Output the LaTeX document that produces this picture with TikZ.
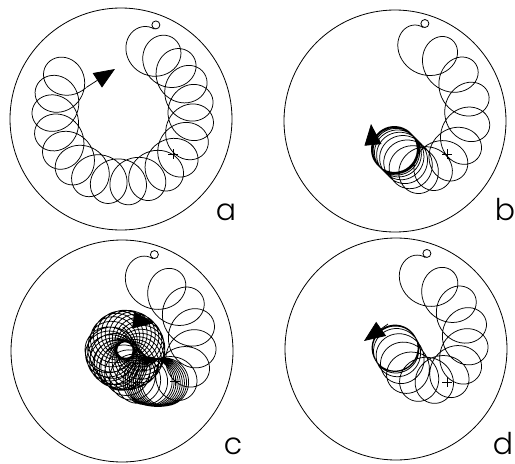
\documentclass[tikz,border=0pt]{standalone}
\usepackage{fontspec}
\setsansfont{Poppins Light}
\usetikzlibrary{arrows.meta}

\tikzset{
  declare function={
    ph(\x)=-60-360*(\x-floor(\x));
    % panel a: loops drift round the centre
    tha(\x)=-73+16.55*\x;
    ax(\x)=123+68*cos(tha(\x))+23*cos(ph(\x));
    ay(\x)=114+68*sin(tha(\x))+23*sin(ph(\x));
    % panel b: drift stops
    thb(\x)=min(-80+16*\x,45);
    rhob(\x)=103*exp(-min((\x/7.07)*(\x/7.07),9));
    bx(\x)=394+rhob(\x)*cos(thb(\x))+23*cos(ph(\x));
    by(\x)=149+rhob(\x)*sin(thb(\x))+23*sin(ph(\x));
    % panel d: drift stops near the middle
    thd(\x)=min(-75+22*\x-0.7*\x*\x,60);
    rhod(\x)=73*exp(-min((\x/8.5)*(\x/8.5)*(\x/8.5)*(\x/8.5),9));
    dx(\x)=395+rhod(\x)*cos(thd(\x))+23*cos(ph(\x));
    dy(\x)=348+rhod(\x)*sin(thd(\x))+23*sin(ph(\x));
    % panel c: slow down, then meander
    gc(\x)=ifthenelse(\x<6.3,\x,ifthenelse(\x<15.3,6.3+(\x-6.3)/7.5,7.5+0.5*(\x-15.3)));
    mc(\x)=min(1,max(0,(\x-15.3)/7));
    cx(\x)=122+rhod(gc(\x))*cos(thd(gc(\x)))+mc(\x)*(3+16*cos(90+15*(\x-15.3)))+24*cos(ph(\x));
    cy(\x)=350+rhod(gc(\x))*sin(thd(gc(\x)))+mc(\x)*(16*sin(90+15*(\x-15.3)))+24*sin(ph(\x));
  }
}

\begin{document}
\begin{tikzpicture}[x=1pt,y=-1pt,
    traj/.style={line width=0.75pt},
    rim/.style={line width=0.8pt},
    spot/.style={draw, circle, inner sep=0pt, minimum size=8pt, line width=0.8pt},
    head/.style={-{Triangle[length=21pt,width=17pt]}, line width=0.75pt},
    lab/.style={font=\sffamily\fontsize{30}{30}\selectfont, anchor=base, inner sep=0pt}]
  \useasboundingbox (0,0) rectangle (515,464);

  % a
  \draw[rim] (121,119) circle (111);
  \draw[traj] plot[domain=0:17.7, samples=709] ({ax(\x)},{ay(\x)});
  \coordinate (a0) at ({ax(0)},{ay(0)});
  \coordinate (a1) at ({ax(17.7)},{ay(17.7)});
  \coordinate (atip) at (115,69);
  \node[spot, anchor=250] (sa) at (a0) {};
  \draw[head] (a1) -- (atip);
  \draw[line width=0.8pt] (173,154) +(-5,0) -- +(5,0) +(0,-5) -- +(0,5);
  \node[lab] (la) at (226,220) {a};

  % b
  \draw[rim] (395,121) circle (111);
  \draw[traj] plot[domain=0:17, samples=681] ({bx(\x)},{by(\x)});
  \coordinate (b0) at ({bx(0)},{by(0)});
  \coordinate (bbase) at (373,145);
  \coordinate (btip) at (371,124);
  \node[spot, anchor=250] (sb) at (b0) {};
  \draw[head] (bbase) -- (btip);
  \draw[line width=0.8pt] (447,154) +(-5,0) -- +(5,0) +(0,-5) -- +(0,5);
  \node[lab] (lb) at (505,220) {b};

  % c
  \draw[rim] (122,351) circle (111);
  \draw[traj] plot[domain=0:46, samples=1841] ({cx(\x)},{cy(\x)});
  \coordinate (c0) at ({cx(0)},{cy(0)});
  \coordinate (cbase) at (133,320);
  \coordinate (ctip) at (154,323);
  \node[spot, anchor=250] (sc) at (c0) {};
  \draw[head] (cbase) -- (ctip);
  \draw[line width=0.8pt] (175,381) +(-5,0) -- +(5,0) +(0,-5) -- +(0,5);
  \node[lab] (lc) at (233,454) {c};

  % d
  \draw[rim] (396,349) circle (111);
  \draw[traj] plot[domain=0:18, samples=721] ({dx(\x)},{dy(\x)});
  \coordinate (d0) at ({dx(0)},{dy(0)});
  \coordinate (dbase) at (388,324);
  \coordinate (dtip) at (364,341);
  \node[spot, anchor=250] (sd) at (d0) {};
  \draw[head] (dbase) -- (dtip);
  \draw[line width=0.8pt] (447,382) +(-5,0) -- +(5,0) +(0,-5) -- +(0,5);
  \node[lab] (ld) at (503,454) {d};
\end{tikzpicture}
\end{document}
